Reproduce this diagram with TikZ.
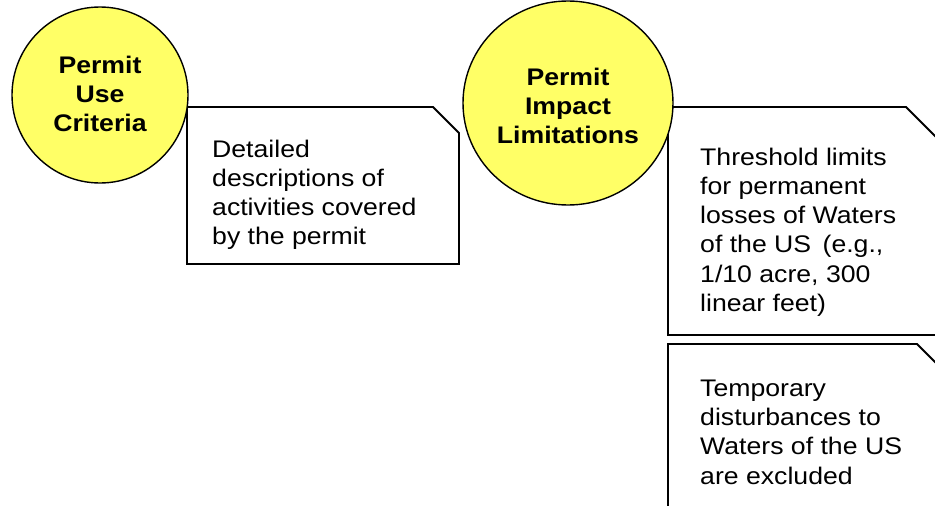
\documentclass[tikz,border=0pt]{standalone}
\usepackage{fontspec}
\setmainfont[FakeStretch=1.11]{Liberation Sans}
\definecolor{bubble}{HTML}{FFFF66}
\begin{document}
\begin{tikzpicture}[x=1pt,y=-1pt,
  notebox/.style={draw=black,line width=1.8pt,line join=miter,fill=white},
  bubble/.style={draw=black,line width=1.4pt,fill=bubble},
  bodytext/.style={anchor=north west,inner sep=0pt,align=left,
    font=\fontsize{24}{29.3}\selectfont},
  headtext/.style={anchor=north,inner sep=0pt,align=center,
    font=\fontsize{24}{29}\selectfont\bfseries}]
\useasboundingbox (0,0) rectangle (935,506);

% note boxes with a clipped top-right corner
\draw[notebox] (187,107) -- (433,107) -- (459,133) -- (459,264) -- (187,264) -- cycle;
\draw[notebox] (668,107) -- (906,107) -- (944,145) -- (944,335) -- (668,335) -- cycle;
\draw[notebox] (668,344) -- (917,344) -- (944,371) -- (944,515) -- (668,515) -- cycle;

% heading bubbles
\draw[bubble] (100,95) ellipse [x radius=88, y radius=88];
\draw[bubble] (568,103) ellipse [x radius=105, y radius=102];

\node[headtext] (use) at (100,55.5) {Permit\\Use\\Criteria};
\node[headtext] (impact) at (568,67.5) {Permit\\Impact\\Limitations};

\node[bodytext] (activities) at (212,139.5)
  {Detailed\\descriptions of\\activities covered\\by the permit};
\node[bodytext] (limits) at (700,147.5)
  {Threshold limits\\for permanent\\losses of Waters\\of the US\hspace{4pt} (e.g.,\\1/10 acre, 300\\linear feet)};
\node[bodytext] (temporary) at (700,379.5)
  {Temporary\\disturbances to\\Waters of the US\\are excluded};
\end{tikzpicture}
\end{document}
